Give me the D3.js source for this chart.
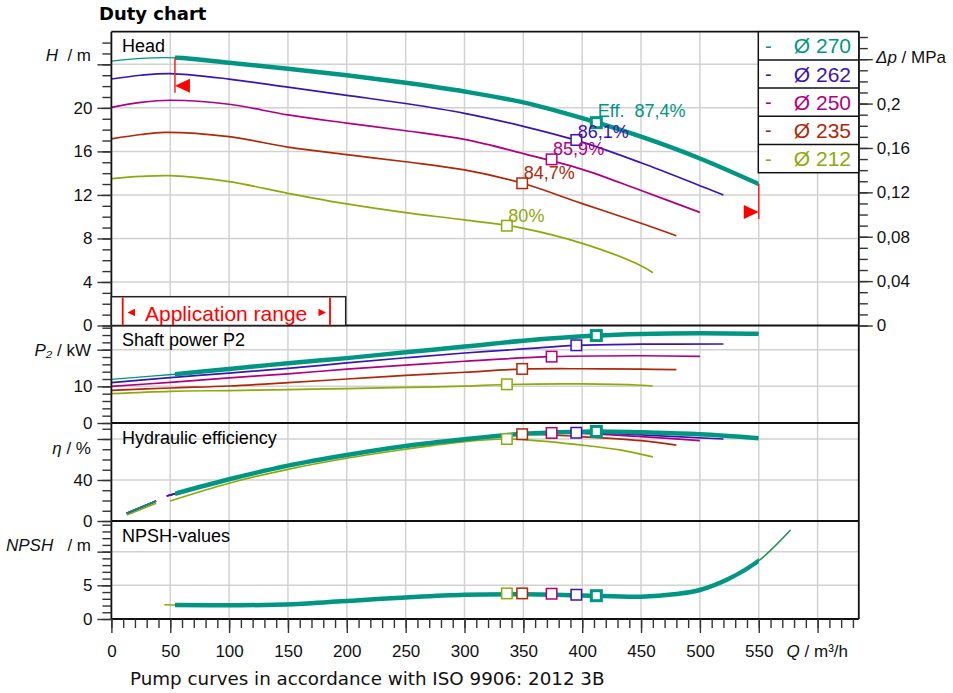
<!DOCTYPE html>
<html>
<head>
<meta charset="utf-8">
<script src="https://cdn.jsdelivr.net/npm/d3@7"></script>
<style>
  body { margin: 0; background: #fff; }
  text { font-family: "Liberation Sans", Arial, sans-serif; }
</style>
</head>
<body>
<div id="chart"></div>
<script>
// impeller diameters, Ø270 is the selected one
let diameters = [270, 262, 250, 235, 212];
let colors = ["#009682", "#3c14b4", "#b00082", "#af280a", "#8caa0a"];

// head H / m over Q / m3/h
let headCurves = [
  [[0,24.3],[25,24.55],[55,24.6],[100,24.15],[150,23.6],[200,23.0],[250,22.3],[300,21.5],[350,20.5],[400,19.05],[450,17.35],[500,15.35],[550,13.0]],
  [[0,22.65],[25,23.0],[50,23.15],[100,22.65],[150,21.9],[200,21.15],[250,20.4],[300,19.5],[350,18.3],[400,16.85],[450,14.95],[500,12.85],[520,12.0]],
  [[0,20.05],[25,20.5],[50,20.7],[100,20.33],[150,19.35],[200,18.6],[250,17.9],[300,17.1],[350,15.8],[400,14.35],[450,12.4],[500,10.4]],
  [[0,17.15],[25,17.55],[45,17.75],[100,17.35],[150,16.4],[200,15.7],[250,15.05],[300,14.3],[350,13.05],[400,11.2],[450,9.4],[480,8.25]],
  [[0,13.5],[25,13.7],[50,13.77],[100,13.22],[150,12.15],[200,11.17],[250,10.37],[300,9.7],[350,8.93],[400,7.55],[450,5.5],[460,4.85]]
];

// shaft power P2 / kW
let powerCurves = [
  [[0,11.9],[54,13.3],[100,14.75],[150,16.3],[200,17.7],[250,19.3],[300,20.85],[350,22.45],[412,23.85],[450,24.3],[500,24.5],[550,24.35]],
  [[0,11.0],[50,12.4],[100,13.6],[150,14.9],[200,16.4],[250,17.8],[300,19.1],[350,20.2],[395,21.2],[450,21.5],[520,21.55]],
  [[0,10.0],[50,11.1],[100,12.3],[150,13.4],[200,14.7],[250,15.8],[300,16.85],[374,18.1],[450,18.35],[500,18.2]],
  [[0,8.9],[50,9.55],[100,10.1],[150,11.0],[200,12.0],[250,13.0],[300,13.85],[349,14.7],[400,14.8],[450,14.7],[480,14.55]],
  [[0,8.0],[50,8.65],[100,8.85],[150,9.1],[200,9.4],[250,9.7],[300,10.05],[336,10.5],[400,10.65],[450,10.3],[460,10.1]]
];

// hydraulic efficiency / %, short low-flow piece and main piece
let effLowCurves = [
  [[13,7.5],[38,19.5]],
  [[13,7.5],[38,19.5]],
  [[13,7.5],[38,19.5]],
  [[13,7.5],[38,19.5]],
  [[13,5.9],[38,17.3]]
];
let effCurves = [
  [[54,26.6],[100,40.7],[150,54],[200,64.4],[250,73.2],[300,79.7],[350,85.0],[412,87.4],[450,86.5],[500,84.6],[550,80.7]],
  [[47,24.4],[100,40.6],[150,53.9],[200,64.3],[250,73.1],[300,79.6],[350,84.5],[395,86.1],[450,84.0],[520,80.0]],
  [[47,24.4],[100,40.6],[150,53.9],[200,64.3],[250,73.1],[300,79.6],[350,84.9],[374,85.9],[400,85.5],[450,82.3],[500,78.4]],
  [[47,24.4],[100,40.5],[150,53.8],[200,64.1],[250,72.9],[300,79.4],[349,84.7],[400,82.2],[450,78.4],[480,74.1]],
  [[50,19.5],[100,36.8],[150,50.4],[200,61.2],[250,70],[300,77.4],[336,80],[350,79.4],[400,74],[432,69.3],[460,62.5]]
];

// NPSH / m (same for all diameters)
let npshCurve = [[45,2.1],[54,2.08],[100,2.05],[130,2.08],[170,2.35],[211,2.8],[250,3.2],[300,3.6],[350,3.68],[400,3.5],[450,3.3],[480,3.7],[500,4.3],[525,6.0],[550,8.65],[563,10.7],[577,13.2]];

// best efficiency points
let bepQ = [412, 395, 374, 349, 336];
let bepHead = [18.64, 17.05, 15.27, 13.07, 9.17];
let bepPower = [23.85, 21.2, 18.1, 14.75, 10.55];
let bepEff = [87.4, 86.1, 85.9, 84.7, 80];
let bepNpsh = [3.46, 3.6, 3.75, 3.8, 3.8];
let effLabels = ["Eff.\u00a0\u00a087,4%", "86,1%", "85,9%", "84,7%", "80%"];

// application range of the selected impeller
let appRange = [54, 550];

let xTicks = [0, 50, 100, 150, 200, 250, 300, 350, 400, 450, 500, 550];
let headTicks = [0, 4, 8, 12, 16, 20];
let powerTicks = [0, 10];
let effTicks = [0, 40];
let npshTicks = [0, 5];
let dpTicks = [0, 0.04, 0.08, 0.12, 0.16, 0.2];

// ---------------------------------------------------------------
let svgWidth = 953, svgHeight = 693;
let plotLeft = 111.4, plotRight = 858.8;
let headTop = 31.7, powerTop = 325.5, effTop = 423, npshTop = 521, plotBottom = 619;

let svg = d3.select("#chart").append("svg")
  .attr("width", svgWidth)
  .attr("height", svgHeight);

let x = d3.scaleLinear().domain([0, 635]).range([plotLeft, plotRight]);
let yHead = d3.scaleLinear().domain([0, 27]).range([powerTop, headTop]);
let yPower = d3.scaleLinear().domain([0, 26.6]).range([effTop, powerTop]);
let yEff = d3.scaleLinear().domain([0, 95.6]).range([npshTop, effTop]);
let yNpsh = d3.scaleLinear().domain([0, 14.55]).range([plotBottom, npshTop]);
// delta p in MPa for water, rho*g*H
let yDp = d3.scaleLinear().domain([0, 27 * 0.00980665]).range([powerTop, headTop]);

let defs = svg.append("defs");
defs.append("clipPath").attr("id", "thick")
  .append("rect")
  .attr("x", x(appRange[0])).attr("y", 0)
  .attr("width", x(appRange[1]) - x(appRange[0])).attr("height", svgHeight);

// title
svg.append("text")
  .attr("x", 99).attr("y", 20)
  .style("font-family", "'DejaVu Sans', Verdana, sans-serif")
  .style("font-weight", "bold")
  .style("font-size", "18px")
  .text("Duty chart");

// grid
let grid = svg.append("g").attr("stroke", "#d2d2d2").attr("stroke-width", 1.5);
grid.selectAll(".vg")
  .data(d3.range(50, 601, 50))
  .enter().append("line")
  .attr("x1", d => x(d)).attr("x2", d => x(d))
  .attr("y1", headTop).attr("y2", plotBottom);

function hGrid(scale, values) {
  grid.selectAll(null)
    .data(values)
    .enter().append("line")
    .attr("x1", plotLeft).attr("x2", plotRight)
    .attr("y1", d => scale(d)).attr("y2", d => scale(d));
}
hGrid(yHead, [4, 8, 12, 16, 20, 24]);
hGrid(yPower, [10, 20]);
hGrid(yEff, [40, 80]);
hGrid(yNpsh, [5, 10]);

// curves
function drawCurve(data, scale, color, width, clip) {
  let line = d3.line()
    .x(d => x(d[0]))
    .y(d => scale(d[1]))
    .curve(d3.curveCatmullRom.alpha(0.5));
  let p = svg.append("path")
    .datum(data)
    .attr("fill", "none")
    .attr("stroke", color)
    .attr("stroke-width", width)
    .attr("d", line);
  if (clip) p.attr("clip-path", "url(#thick)");
  return p;
}

for (let i = diameters.length - 1; i >= 0; i--) {
  let thinW = i === 0 ? 1.3 : 1.7;
  drawCurve(headCurves[i], yHead, colors[i], thinW);
  drawCurve(powerCurves[i], yPower, colors[i], thinW);
  drawCurve(effLowCurves[i], yEff, colors[i], 1.7);
  drawCurve(effCurves[i], yEff, colors[i], thinW);
  if (i === 0) {
    drawCurve(headCurves[i], yHead, colors[i], 4.5, true);
    drawCurve(powerCurves[i], yPower, colors[i], 4.5, true);
    drawCurve(effCurves[i], yEff, colors[i], 4.5, true);
  }
}
drawCurve(npshCurve, yNpsh, colors[4], 1.5);
drawCurve(npshCurve.filter(d => d[0] >= appRange[0]), yNpsh, colors[0], 1.2);
drawCurve(npshCurve, yNpsh, colors[0], 4.5, true);

// panel borders
let frame = svg.append("g").attr("stroke", "#111").attr("stroke-width", 1.8);
[headTop, powerTop, effTop, npshTop, plotBottom].forEach(yy => {
  frame.append("line").attr("x1", plotLeft).attr("x2", plotRight).attr("y1", yy).attr("y2", yy);
});
frame.append("line").attr("x1", plotLeft).attr("x2", plotLeft).attr("y1", headTop).attr("y2", plotBottom);
frame.append("line").attr("x1", plotRight).attr("x2", plotRight).attr("y1", headTop).attr("y2", plotBottom);

// panel titles
[["Head", headTop], ["Shaft power P2", powerTop], ["Hydraulic efficiency", effTop], ["NPSH-values", npshTop]]
  .forEach(t => {
    svg.append("text")
      .attr("x", 122).attr("y", t[1] + 20.5)
      .style("font-size", "18px")
      .text(t[0]);
  });

// application range limits
function headAt(i, q) {
  let c = headCurves[i];
  for (let k = 1; k < c.length; k++) {
    if (q <= c[k][0]) {
      let t = (q - c[k - 1][0]) / (c[k][0] - c[k - 1][0]);
      return c[k - 1][1] + t * (c[k][1] - c[k - 1][1]);
    }
  }
  return c[c.length - 1][1];
}
appRange.forEach((q, k) => {
  let xx = x(q);
  let yTop = yHead(headAt(0, q));
  let yBot = yTop + 35;
  svg.append("line")
    .attr("x1", xx).attr("x2", xx).attr("y1", yTop).attr("y2", yBot)
    .attr("stroke", "#ff2020").attr("stroke-width", 1.5);
  let dir = k === 0 ? 1 : -1;
  svg.append("path")
    .attr("d", `M${xx},${yBot - 7}L${xx + dir * 15},${yBot - 14}L${xx + dir * 15},${yBot}Z`)
    .attr("fill", "#ff0000");
});

// application range box
let ar = svg.append("g");
ar.append("rect")
  .attr("x", plotLeft).attr("y", 296.7)
  .attr("width", 345.7 - plotLeft).attr("height", powerTop - 296.7)
  .attr("fill", "#fff").attr("stroke", "#222").attr("stroke-width", 1.5);
ar.selectAll(".bar").data([122.7, 330]).enter().append("line")
  .attr("x1", d => d).attr("x2", d => d)
  .attr("y1", 297.5).attr("y2", powerTop)
  .attr("stroke", "#ff0000").attr("stroke-width", 1.8);
ar.append("path").attr("d", "M127.5,312.5L135,308.8L135,316.2Z").attr("fill", "#ff0000");
ar.append("path").attr("d", "M326,312.5L318.5,308.8L318.5,316.2Z").attr("fill", "#ff0000");
ar.append("text")
  .attr("x", 145).attr("y", 320.5)
  .style("font-size", "21px")
  .attr("fill", "#ff0000")
  .text("Application range");

// best efficiency point markers
function drawMarkers(values, scale) {
  for (let i = diameters.length - 1; i >= 0; i--) {
    let s = i === 0 ? 10 : 10.5;
    svg.append("rect")
      .attr("x", x(bepQ[i]) - s / 2).attr("y", scale(values[i]) - s / 2)
      .attr("width", s).attr("height", s)
      .attr("fill", "#fff")
      .attr("stroke", colors[i])
      .attr("stroke-width", i === 0 ? 3 : 1.5);
  }
}
drawMarkers(bepHead, yHead);
drawMarkers(bepPower, yPower);
drawMarkers(bepEff, yEff);
drawMarkers(bepNpsh, yNpsh);

// efficiency labels (small nudges keep the two top ones apart)
let labelShift = [-6, -2, -4, -4, -4];
for (let i = diameters.length - 1; i >= 0; i--) {
  svg.append("text")
    .attr("x", x(bepQ[i]) + 1.5)
    .attr("y", yHead(bepHead[i]) + labelShift[i])
    .attr("fill", colors[i])
    .style("font-size", "18px")
    .text(effLabels[i]);
}

// legend
let legend = svg.append("g");
let rowH = 28.2, legX = 758.3;
legend.append("rect")
  .attr("x", legX).attr("y", headTop)
  .attr("width", plotRight - legX).attr("height", rowH * diameters.length)
  .attr("fill", "#fff").attr("stroke", "#111").attr("stroke-width", 1.5);
diameters.forEach((d, i) => {
  let y0 = headTop + i * rowH;
  if (i > 0) {
    legend.append("line")
      .attr("x1", legX).attr("x2", plotRight).attr("y1", y0).attr("y2", y0)
      .attr("stroke", "#111").attr("stroke-width", 1.5);
  }
  legend.append("text")
    .attr("x", 765).attr("y", y0 + rowH / 2 + 7)
    .attr("fill", colors[i]).style("font-size", "20px")
    .text("-");
  legend.append("text")
    .attr("x", 851).attr("y", y0 + rowH / 2 + 7.5)
    .attr("text-anchor", "end")
    .attr("fill", colors[i]).style("font-size", "21px")
    .text("Ø " + d);
});

// axes
function styleAxis(g) {
  g.select(".domain").remove();
  g.selectAll("line").attr("stroke", "#333").attr("stroke-width", 1.4);
  g.selectAll("text").style("font-size", "17px").attr("fill", "#111");
}

function leftAxis(scale, max, minorStep, majorStep, labels) {
  svg.append("g")
    .attr("transform", `translate(${plotLeft},0)`)
    .call(d3.axisLeft(scale).tickValues(d3.range(0, max + 1e-9, minorStep)).tickSize(9).tickFormat(""))
    .call(styleAxis);
  svg.append("g")
    .attr("transform", `translate(${plotLeft},0)`)
    .call(d3.axisLeft(scale).tickValues(d3.range(0, max + 1e-9, majorStep)).tickSize(14).tickPadding(5)
      .tickFormat(d => labels.includes(d) ? d : ""))
    .call(styleAxis);
}
leftAxis(yHead, 26, 1, 4, headTicks);
leftAxis(yPower, 26, 2, 10, powerTicks);
leftAxis(yEff, 90, 10, 40, effTicks);
leftAxis(yNpsh, 14, 1, 5, npshTicks);

let dpFormat = d => d === 0 ? "0" : String(+d.toFixed(2)).replace(".", ",");
svg.append("g")
  .attr("transform", `translate(${plotRight},0)`)
  .call(d3.axisRight(yDp).tickValues(d3.range(0, 0.2605, 0.01)).tickSize(9).tickFormat(""))
  .call(styleAxis);
svg.append("g")
  .attr("transform", `translate(${plotRight},0)`)
  .call(d3.axisRight(yDp).tickValues([0, 0.04, 0.08, 0.12, 0.16, 0.2, 0.24]).tickSize(14).tickPadding(4)
    .tickFormat(d => dpTicks.some(v => Math.abs(v - d) < 1e-9) ? dpFormat(d) : ""))
  .call(styleAxis);

svg.append("g")
  .attr("transform", `translate(0,${plotBottom})`)
  .call(d3.axisBottom(x).tickValues(d3.range(0, 631, 10)).tickSize(9).tickFormat(""))
  .call(styleAxis);
svg.append("g")
  .attr("transform", `translate(0,${plotBottom})`)
  .call(d3.axisBottom(x).tickValues(d3.range(0, 631, 50)).tickSize(14).tickPadding(12)
    .tickFormat(d => xTicks.includes(d) ? d : ""))
  .call(styleAxis);

// axis titles
function axisTitle(xx, yy, italic, rest, anchor) {
  let t = svg.append("text")
    .attr("x", xx).attr("y", yy)
    .attr("text-anchor", anchor || "end")
    .style("font-size", "17px")
    .attr("fill", "#111");
  t.append("tspan").style("font-style", "italic").text(italic);
  t.append("tspan").text(rest);
  return t;
}
axisTitle(91, headTop + 29.5, "H", "\u00a0\u00a0/\u00a0m");
axisTitle(91, powerTop + 30.5, "P\u2082", "\u00a0/\u00a0kW");
axisTitle(91, effTop + 31, "η", "\u00a0/\u00a0%");
axisTitle(91, npshTop + 30, "NPSH", "\u00a0\u00a0\u00a0/\u00a0m");
axisTitle(876, headTop + 31, "Δp", "\u00a0/\u00a0MPa", "start");
axisTitle(x(600) - 31, 657, "Q", "\u00a0/\u00a0m³/h", "start");

// footer
svg.append("text")
  .attr("x", 130).attr("y", 685)
  .style("font-family", "'DejaVu Sans', Verdana, sans-serif")
  .style("font-size", "18.3px")
  .attr("fill", "#111")
  .text("Pump curves in accordance with ISO 9906: 2012 3B");
</script>
</body>
</html>
